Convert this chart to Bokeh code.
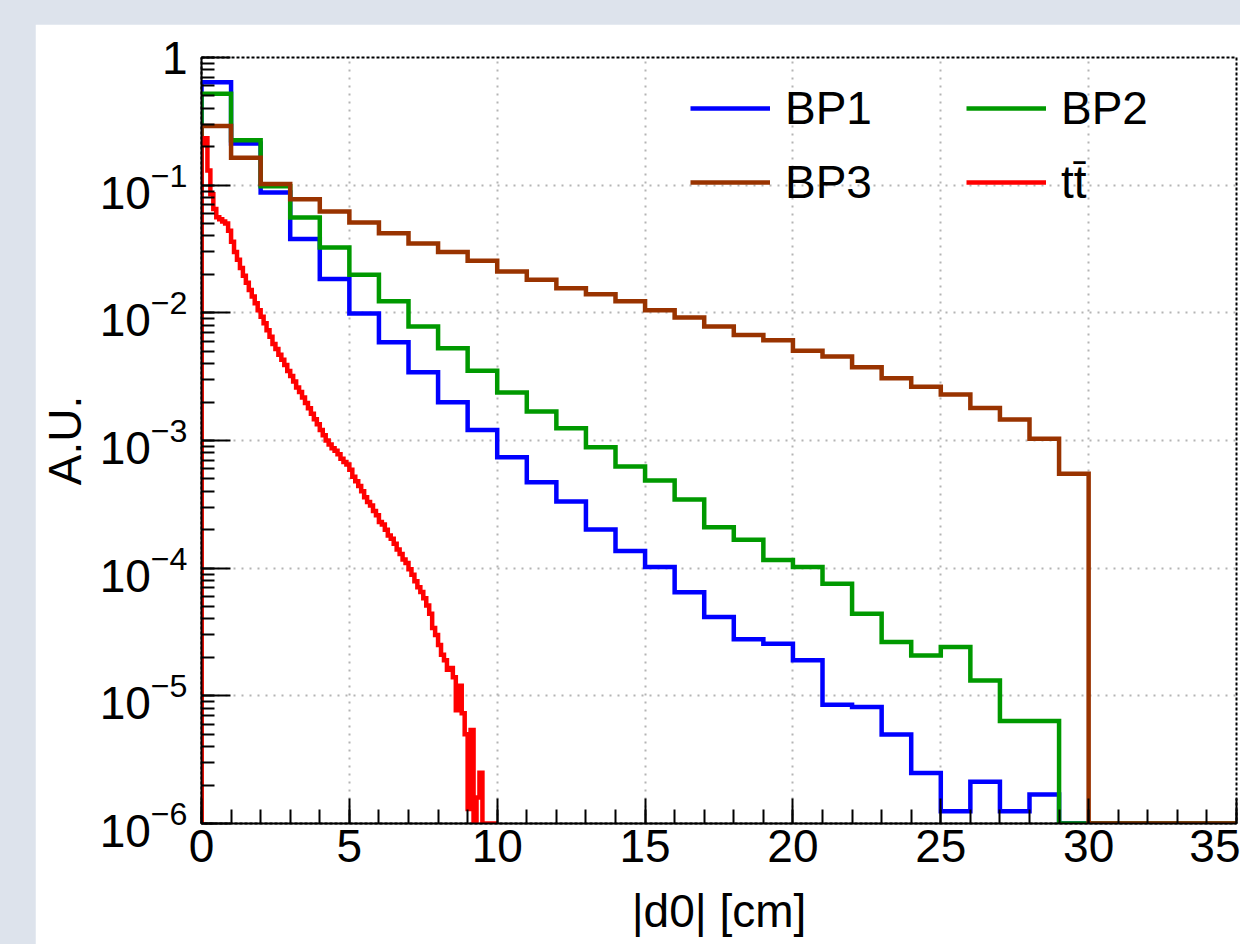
from bokeh.plotting import figure
from bokeh.models import (Range1d, Legend, LegendItem, SingleIntervalTicker, LogTicker,
                          LogTickFormatter)
from bokeh.layouts import column
from bokeh.embed import file_html
from bokeh.resources import INLINE

# ---------------- data ----------------
bin_edges_coarse = list(range(0, 36))          # 35 bins of 1 cm
bp1 = [0.64, 0.212, 0.0875, 0.0378, 0.0184, 0.00989, 0.00587, 0.00342, 0.00199, 0.00121,
       0.00074, 0.000471, 0.000333, 0.000201, 0.000136, 0.000102, 6.49e-5, 4.14e-5, 2.77e-5, 2.56e-5,
       1.90e-5, 8.53e-6, 8.17e-6, 4.97e-6, 2.49e-6, 1.25e-6, 2.12e-6, 1.25e-6, 1.69e-6, 0,
       0, 0, 0, 0, 0]
bp2 = [0.52, 0.225, 0.098, 0.0558, 0.0325, 0.0199, 0.0123, 0.0078, 0.00527, 0.00352,
       0.00238, 0.00169, 0.00125, 0.000885, 0.000625, 0.000486, 0.000345, 0.000209, 0.000167, 0.000116,
       0.000102, 7.55e-5, 4.40e-5, 2.64e-5, 2.07e-5, 2.41e-5, 1.32e-5, 6.35e-6, 6.35e-6, 0,
       0, 0, 0, 0, 0]
bp3 = [0.291, 0.164, 0.102, 0.0777, 0.0622, 0.0510, 0.0421, 0.0349, 0.0299, 0.0256,
       0.0211, 0.0182, 0.0156, 0.0140, 0.0123, 0.0105, 0.0092, 0.0078, 0.0067, 0.0061,
       0.00505, 0.00454, 0.00374, 0.00307, 0.00264, 0.00229, 0.00180, 0.00146, 0.00103, 0.000548,
       0, 0, 0, 0, 0]
tt_edges = [i / 10 for i in range(0, 101)]      # 100 bins of 0.1 cm
tt = [0.21, 0.233, 0.13, 0.085, 0.065, 0.056, 0.054, 0.052, 0.050, 0.044,
      0.036, 0.030, 0.026, 0.0224, 0.0195, 0.0172, 0.0151, 0.0134, 0.0119, 0.0105,
      0.0093, 0.0083, 0.0073, 0.0065, 0.0057, 0.0052, 0.0047, 0.0043, 0.0039, 0.0035,
      0.0032, 0.0029, 0.0026, 0.0024, 0.00217, 0.00197, 0.00179, 0.00162, 0.00147, 0.00134,
      0.00121, 0.0011, 0.0010, 0.00093, 0.00087, 0.00083, 0.00078, 0.00072, 0.00068, 0.00065,
      0.00059, 0.00052, 0.00048, 0.00044, 0.00040, 0.00036, 0.00033, 0.00031, 0.00028, 0.00026,
      0.00023, 0.00022, 0.00020, 0.00018, 0.00017, 0.000155, 0.00014, 0.000129, 0.000117, 0.00011,
      9.8e-5, 8.9e-5, 7.9e-5, 7.1e-5, 6.5e-5, 5.8e-5, 5.1e-5, 4.4e-5, 3.4e-5, 3.0e-5,
      2.5e-5, 2.1e-5, 1.9e-5, 1.6e-5, 1.65e-5, 1.4e-5, 7.7e-6, 1.2e-5, 7.3e-6, 5.0e-6,
      1.3e-6, 5.4e-6, 0, 1.6e-6, 2.5e-6, 0, 0, 0, 0, 0]

series_names = ["BP1", "BP2", "BP3", "tt\u0304"]
series_colors = ["#0000ff", "#009900", "#993300", "#ff0000"]
x_title = "|d0| [cm]"
y_title = "A.U."
Y_MIN, Y_MAX = 1e-6, 1.0
X_MIN, X_MAX = 0, 35

FONT = "Liberation Sans"


def hist_outline(edges, vals, floor):
    xs, ys = [edges[0]], [floor]
    for i, v in enumerate(vals):
        v = max(v, floor)
        xs += [edges[i], edges[i + 1]]
        ys += [v, v]
    xs.append(edges[-1])
    ys.append(floor)
    return xs, ys


p = figure(width=1205, height=920, output_backend="svg", toolbar_location=None,
           x_range=Range1d(X_MIN, X_MAX), y_range=Range1d(Y_MIN, Y_MAX),
           y_axis_type="log",
           min_border_left=166, min_border_right=4, min_border_top=33, min_border_bottom=121)
p.background_fill_color = "white"
p.border_fill_color = "white"
p.outline_line_color = "black"
p.outline_line_width = 2
p.outline_line_dash = "3 2"

renderers = []
for (edges, vals), color in zip([(bin_edges_coarse, bp1), (bin_edges_coarse, bp2),
                                 (bin_edges_coarse, bp3), (tt_edges, tt)], series_colors):
    xs, ys = hist_outline(edges, vals, Y_MIN)
    r = p.line(xs, ys, line_color=color, line_width=4.5, line_join="miter")
    renderers.append(r)

# axes
xa = p.xaxis[0]
xa.ticker = SingleIntervalTicker(interval=5, num_minor_ticks=5)
ya = p.yaxis[0]
ya.ticker = LogTicker(desired_num_ticks=8, num_minor_ticks=10)
ya.formatter = LogTickFormatter(min_exponent=1)

for ax in (xa, ya):
    ax.axis_line_color = "black"
    ax.axis_line_width = 2
    ax.major_tick_line_color = "black"
    ax.major_tick_line_width = 2
    ax.minor_tick_line_color = "black"
    ax.minor_tick_line_width = 2
    ax.major_tick_out = 0
    ax.minor_tick_out = 0
    ax.major_label_text_font = FONT
    ax.major_label_text_font_size = "46px"
    ax.major_label_text_color = "black"
    ax.axis_label_text_font = FONT
    ax.axis_label_text_font_size = "46px"
    ax.axis_label_text_font_style = "normal"
    ax.axis_label_text_color = "black"

xa.major_tick_in = 25
xa.minor_tick_in = 14
ya.major_tick_in = 29
ya.minor_tick_in = 13
xa.major_label_standoff = 6
ya.major_label_standoff = 14
xa.axis_label = x_title
ya.axis_label = y_title
xa.axis_label_standoff = 20
ya.axis_label_standoff = 6

for g in (p.xgrid[0], p.ygrid[0]):
    g.grid_line_color = "#b4b4b4"
    g.grid_line_width = 2
    g.grid_line_dash = "2 6"
p.xgrid[0].ticker = xa.ticker
p.ygrid[0].ticker = ya.ticker

legend = Legend(items=[LegendItem(label=n, renderers=[r]) for n, r in zip(series_names, renderers)],
                orientation="horizontal", ncols=2,
                location=(489, 614), padding=0, margin=0, spacing=20,
                glyph_width=80, glyph_height=52, label_height=52, label_width=161,
                label_standoff=15,
                label_text_font=FONT, label_text_font_size="46px", label_text_color="black",
                background_fill_alpha=0, border_line_alpha=0)
p.add_layout(legend, "center")

layout = column(p, styles={"background-color": "#dde3ec", "padding-left": "35px", "padding-top": "24px"})

open("out.html", "w").write(file_html(layout, INLINE))
